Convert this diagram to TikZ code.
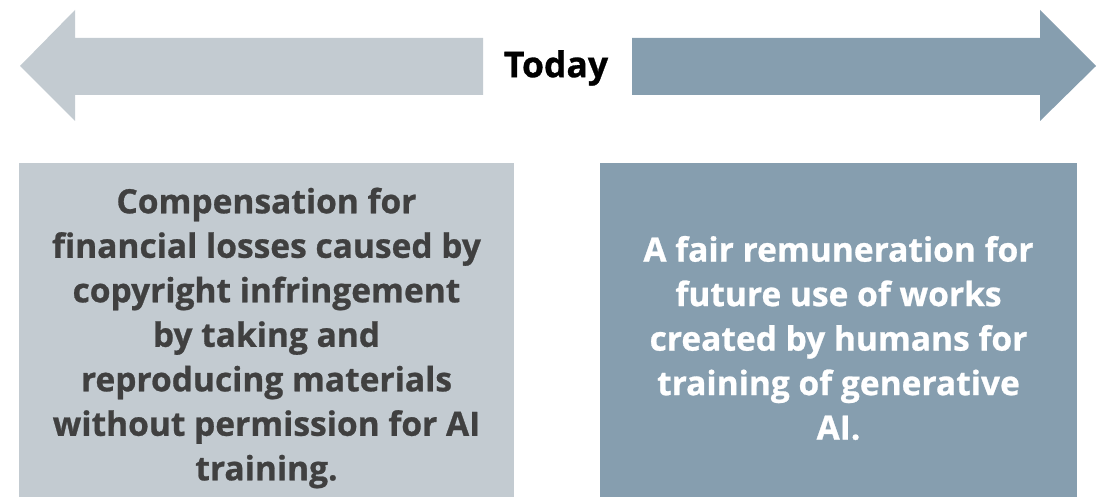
\documentclass[tikz,border=0pt]{standalone}
\usepackage{fontspec}
\setmainfont{Open Sans}[BoldFeatures={FakeBold=0.8}]
\definecolor{lightblue}{RGB}{195,203,209}
\definecolor{darkblue}{RGB}{134,158,175}
\definecolor{textgray}{RGB}{64,64,64}
\begin{document}
\begin{tikzpicture}[x=1pt,y=-1pt,
  boxtext/.style={align=center,font=\bfseries\fontsize{33.5}{44.5}\selectfont,inner sep=0pt},
]
\useasboundingbox (0,0) rectangle (1097,497);
% arrows
\fill[lightblue] (20,66) -- (75,10) -- (75,38) -- (483,38) -- (483,95) -- (75,95) -- (75,121) -- cycle;
\fill[darkblue] (1096,66) -- (1040,10) -- (1040,38) -- (632,38) -- (632,95) -- (1040,95) -- (1040,121) -- cycle;
\node[font=\bfseries\fontsize{35.5}{40}\selectfont,text=black,inner sep=0pt] (today) at (556,68) {Today};
% boxes
\fill[lightblue] (19,163) rectangle (514,497);
\fill[darkblue] (600,163) rectangle (1077,497);
\node[boxtext,text=textgray] (left) at (266.5,338) {Compensation for\\financial losses caused by\\copyright infringement\\by taking and\\reproducing materials\\without permission for AI\\training.};
\node[boxtext,text=white] (right) at (838.5,338) {A fair remuneration for\\future use of works\\created by humans for\\training of generative\\AI.};
\end{tikzpicture}
\end{document}
